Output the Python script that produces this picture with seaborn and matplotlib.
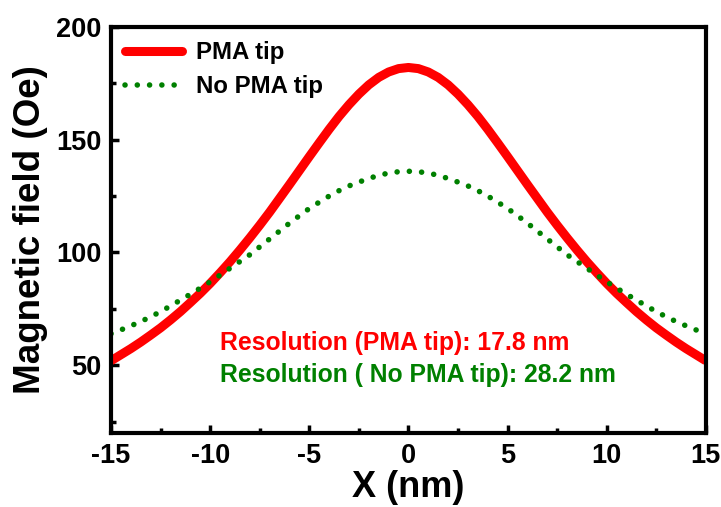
import numpy as np
import pandas as pd
import matplotlib
matplotlib.use("Agg")
import matplotlib.pyplot as plt
import seaborn as sns
from matplotlib.ticker import MultipleLocator

# Data (half-nm steps)
x_nm = [-15, -14.5, -14, -13.5, -13, -12.5, -12, -11.5, -11, -10.5, -10,
        -9.5, -9, -8.5, -8, -7.5, -7, -6.5, -6, -5.5, -5, -4.5, -4, -3.5,
        -3, -2.5, -2, -1.5, -1, -0.5, 0, 0.5, 1, 1.5, 2, 2.5, 3, 3.5, 4,
        4.5, 5, 5.5, 6, 6.5, 7, 7.5, 8, 8.5, 9, 9.5, 10, 10.5, 11, 11.5,
        12, 12.5, 13, 13.5, 14, 14.5, 15]
pma_half = [182, 181.5, 180, 177.6, 174.3, 170.2, 165.5, 160.3, 154.6, 148.6,
            142.5, 136.3, 130.1, 124.0, 117.9, 112.1, 106.5, 101.1, 95.9,
            91, 86.3, 81.9, 77.8, 73.8, 70.1, 66.6, 63.4, 60.3, 57.4, 54.7, 52]
no_pma_half = [136, 135.8, 135.2, 134.2, 132.8, 131.2, 129.5, 127.4, 125,
               122.3, 119.5, 116.3, 113, 109.5, 106, 102.5, 99, 96, 93, 90,
               87, 84.2, 81.5, 78.9, 76.3, 73.8, 71.5, 69.4, 67.5, 65.7, 64]
# symmetric profiles: negative side mirrors the positive side
pma_tip = pma_half[::-1] + pma_half[1:]
no_pma_tip = no_pma_half[::-1] + no_pma_half[1:]

series_names = ["PMA tip", "No PMA tip"]
annotations = ["Resolution (PMA tip): 17.8 nm", "Resolution ( No PMA tip): 28.2 nm"]
x_ticks = [-15, -10, -5, 0, 5, 10, 15]
y_ticks = [50, 100, 150, 200]

df = pd.DataFrame({
    "X": x_nm * 2,
    "B": pma_tip + no_pma_tip,
    "tip": [series_names[0]] * len(x_nm) + [series_names[1]] * len(x_nm),
})

sns.set_theme(style="white")
plt.rcParams["font.family"] = ["Liberation Sans", "DejaVu Sans"]
plt.rcParams["font.weight"] = "bold"
plt.rcParams["axes.unicode_minus"] = False
plt.rcParams["text.color"] = "black"
plt.rcParams["axes.labelcolor"] = "black"
plt.rcParams["xtick.color"] = "black"
plt.rcParams["ytick.color"] = "black"

fig = plt.figure(figsize=(7.21, 5.07), dpi=100)
ax = fig.add_axes([0.154, 0.146, 0.825, 0.801])

sns.lineplot(data=df[df.tip == series_names[0]], x="X", y="B", ax=ax,
             color="#ff0000", linewidth=6.5, label=series_names[0],
             solid_capstyle="butt", solid_joinstyle="round")
sns.lineplot(data=df[df.tip == series_names[1]], x="X", y="B", ax=ax,
             color="#008000", linewidth=4.0, label=series_names[1])
line_g = ax.lines[1]
line_g.set_dashes((0.01, 2.2))
line_g.set_dash_capstyle("round")

ax.set_xlim(-15, 15)
ax.set_ylim(20, 200)
ax.set_xticks(x_ticks)
ax.set_yticks(y_ticks)
ax.xaxis.set_minor_locator(MultipleLocator(2.5))
ax.yaxis.set_minor_locator(MultipleLocator(25))
ax.tick_params(axis="both", which="major", direction="in", length=6, width=2.5,
               labelsize=19.5, pad=7, bottom=True, left=True, colors="black")
ax.tick_params(axis="both", which="minor", direction="in", length=3.5, width=2.5,
               bottom=True, left=True, colors="black")
for lab in ax.get_xticklabels() + ax.get_yticklabels():
    lab.set_fontweight("bold")

for s in ax.spines.values():
    s.set_linewidth(3)
    s.set_color("black")

ax.set_xlabel("X (nm)", fontsize=26, fontweight="bold", labelpad=1, color="black")
ax.set_ylabel("Magnetic field (Oe)", fontsize=26.5, fontweight="bold",
              labelpad=6, color="black")

leg = ax.legend(loc="upper left", frameon=False,
                handlelength=2.35, handletextpad=0.6, borderaxespad=0.2,
                labelspacing=0.45, prop={"weight": "bold", "size": 17.3})
for h in leg.get_lines():
    h.set_solid_capstyle("round")
for t in leg.get_texts():
    t.set_color("black")

ax.text(-9.5, 60, annotations[0], color="#ff0000", fontsize=17.8,
        fontweight="bold", va="center", ha="left")
ax.text(-9.5, 45.5, annotations[1], color="#008000", fontsize=17.8,
        fontweight="bold", va="center", ha="left")

fig.savefig("out.png", dpi=100)
